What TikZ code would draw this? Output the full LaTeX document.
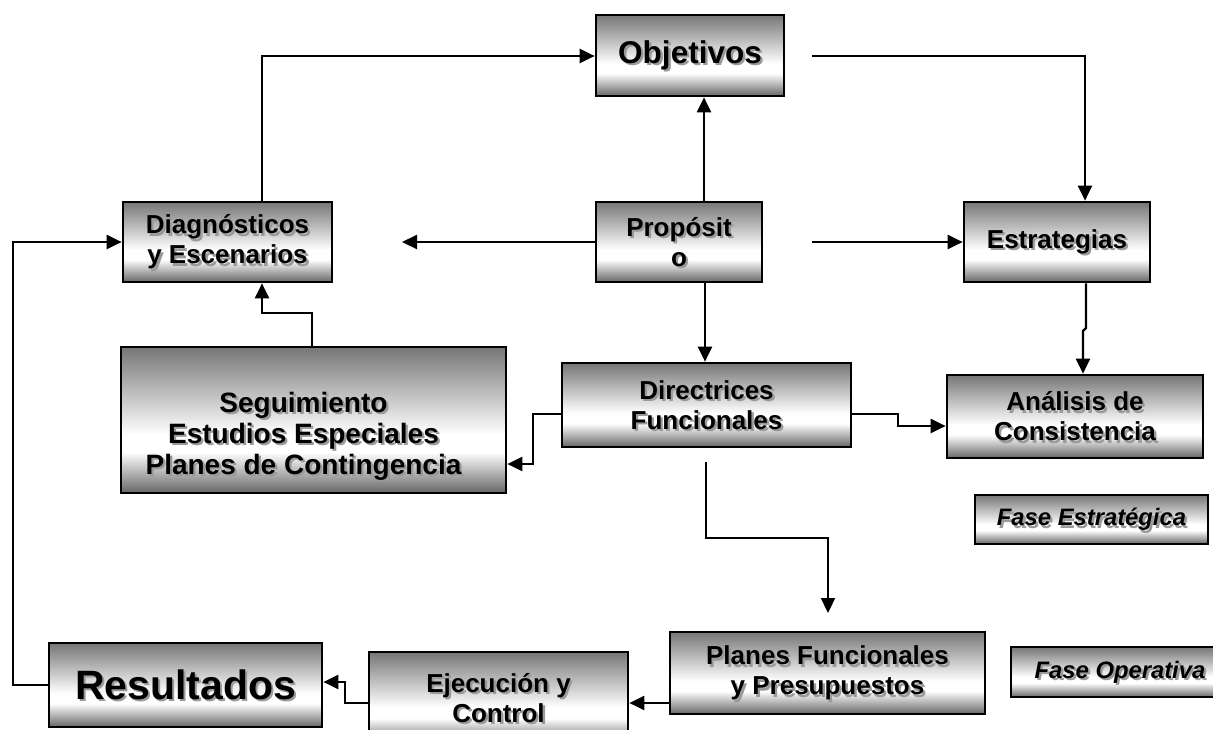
\documentclass[tikz,border=0pt]{standalone}
\usepackage{fontspec}
\setmainfont{Liberation Sans}
\usetikzlibrary{arrows.meta,positioning}

\definecolor{shT}{HTML}{767676}
\definecolor{shB}{HTML}{666666}
\definecolor{sombra}{HTML}{9A9A9A}

% grey-white-grey metallic fill, lightest a little below the middle
\pgfdeclareverticalshading{metal}{100bp}{%
  color(0bp)=(shB); color(25bp)=(shB); color(39bp)=(white);
  color(45bp)=(white); color(75bp)=(shT); color(100bp)=(shT)}

\tikzset{
  caja/.style={draw=black, line width=2.7pt, shading=metal, inner sep=0pt},
  rotulo/.style={align=center, inner sep=0pt, text=black},
  flecha/.style={line width=2.2pt, -{Triangle[length=15pt,width=14pt]}},
  linea/.style={line width=2.2pt}
}

% shadowed bold label: [font]{name}{position}{text}
\newcommand\rot[4][]{%
  \node[rotulo, text=sombra, font=#1] (#2-s) at ([shift={(2.3,2.3)}]#3) {#4};
  \node[rotulo, font=#1] (#2-t) at (#3) {#4};
}
% box with its label in the centre: [font]{name}{center}{width}{height}{text}
\newcommand\caja[6][]{%
  \node[caja, minimum width=#4, minimum height=#5] (#2) at (#3) {};
  \rot[#1]{#2}{#2.center}{#6}
}

\newcommand\fmed{\fontsize{26}{30}\selectfont\bfseries}
\newcommand\fseg{\fontsize{28}{31}\selectfont\bfseries}
\newcommand\fbig{\fontsize{31.5}{36}\selectfont\bfseries}
\newcommand\fres{\fontsize{41}{46}\selectfont\bfseries}
\newcommand\ffase{\fontsize{23.8}{27}\selectfont\bfseries\itshape}

\begin{document}
\begin{tikzpicture}[x=1pt,y=-1pt]
\useasboundingbox (0,0) rectangle (1213,729);
\clip (0,0) rectangle (1213,729);

% boxes
\caja[\fbig]{obj}{690,55.5}{188pt}{81pt}{Objetivos}
\caja[\fmed]{diag}{227.5,242}{209pt}{80pt}{Diagnósticos\\y Escenarios}
\caja[\fmed]{prop}{679,242}{166pt}{80pt}{Propósit\\o}
\caja[\fmed]{estr}{1057,242}{186pt}{80pt}{Estrategias}
\node[caja, minimum width=385pt, minimum height=146pt] (seg) at (313.5,420) {};
\rot[\fseg]{seg}{303.5,436}{Seguimiento\\Estudios Especiales\\Planes de Contingencia}
\caja[\fmed]{dir}{706.5,405}{289pt}{84pt}{Directrices\\Funcionales}
\caja[\fmed]{anal}{1075,416.5}{256pt}{83pt}{Análisis de\\Consistencia}
\caja[\ffase]{faseE}{1091.5,519.5}{233pt}{49pt}{Fase Estratégica}
\caja[\fres]{res}{185.5,685}{273pt}{84pt}{Resultados}
\caja[\fmed]{ejec}{498.5,698}{259pt}{92pt}{Ejecución y\\Control}
\caja[\fmed]{plan}{827.5,673}{315pt}{82pt}{Planes Funcionales\\y Presupuestos}
\caja[\ffase]{faseO}{1120,672}{218pt}{50pt}{Fase Operativa}

% free ends of connectors
\coordinate (objR) at (812,56);
\coordinate (propL) at (402,242);
\coordinate (propR) at (812,242);
\coordinate (dirB) at (706,462);
\coordinate (planT) at (828,613);

% connectors
\draw[flecha] (diag.north -| 262,0) |- (obj.west |- 0,56);
\draw[flecha] (prop.north -| 704,0) -- (obj.south -| 704,0);
\draw[flecha] (objR) -| (estr.north -| 1085,0);
\draw[flecha] (prop.west) -- (propL);
\draw[flecha] (propR) -- (estr.west);
\draw[flecha] (prop.south -| 705,0) -- (dir.north -| 705,0);
\draw[flecha] (estr.south -| 1086,0) -- (1086,328) -- (1083,331) -- (anal.north -| 1083,0);
\draw[flecha] (dir.east |- 0,414) -- (898,414) -- (898,426) -- (anal.west |- 0,426);
\draw[flecha] (dir.west |- 0,414) -- (533,414) -- (533,464) -- (seg.east |- 0,464);
\draw[flecha] (seg.north -| 312,0) -- (312,313) -- (262,313) -- (diag.south -| 262,0);
\draw[flecha] (dirB) -- (706,538) -- (828,538) -- (planT);
\draw[flecha] (plan.west |- 0,703) -- (ejec.east |- 0,703);
\draw[flecha] (ejec.west |- 0,703) -- (345,703) -- (345,682) -- (res.east |- 0,682);
\draw[flecha] (res.west) -- (13,685) -- (13,242) -- (diag.west);
\end{tikzpicture}
\end{document}
